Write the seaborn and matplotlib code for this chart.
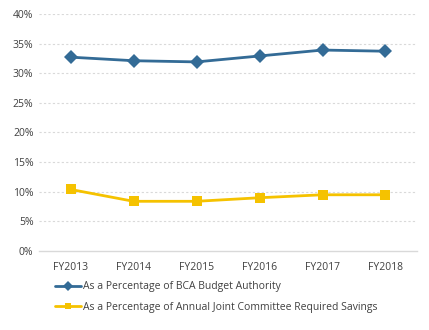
import matplotlib
matplotlib.use("Agg")
import matplotlib.pyplot as plt
import seaborn as sns
import pandas as pd

years = ["FY2013", "FY2014", "FY2015", "FY2016", "FY2017", "FY2018"]
bca = [32.7, 32.1, 31.9, 32.9, 33.9, 33.7]
jc = [10.4, 8.4, 8.4, 9.0, 9.5, 9.5]
name_bca = "As a Percentage of BCA Budget Authority"
name_jc = "As a Percentage of Annual Joint Committee Required Savings"
yticks = [0, 5, 10, 15, 20, 25, 30, 35, 40]

sns.set_theme(style="white")
plt.rcParams['font.family'] = ['Open Sans', 'DejaVu Sans']

df = pd.DataFrame({"year": years * 2, "value": bca + jc,
                   "series": [name_bca] * 6 + [name_jc] * 6})

fig = plt.figure(figsize=(4.29, 3.30), dpi=100)
ax = fig.add_axes([0.091, 0.239, 0.881, 0.719])

sns.lineplot(data=df, x="year", y="value", hue="series", style="series",
             palette={name_bca: "#336b96", name_jc: "#f5c200"},
             markers={name_bca: "D", name_jc: "s"}, dashes=False,
             markersize=7, linewidth=2.0, markeredgewidth=0, ax=ax, sort=False)

ax.set_xlim(-0.5, 5.5)
ax.set_ylim(0, 40)
ax.set_yticks(yticks)
ax.set_yticklabels([f"{v}%" for v in yticks])
ax.set_xlabel("")
ax.set_ylabel("")
for y in yticks[1:]:
    ax.axhline(y, color="#d9d9d9", linewidth=0.8, linestyle=(0, (2, 2)), zorder=0)
for s in ["top", "right", "left"]:
    ax.spines[s].set_visible(False)
ax.spines["bottom"].set_color("#d9d9d9")
ax.spines["bottom"].set_linewidth(1)
ax.tick_params(axis="both", length=0, labelsize=7.5, colors="#404040", pad=8)
ax.tick_params(axis="y", pad=4)

leg = ax.legend(loc="upper left", bbox_to_anchor=(0.03, -0.11), frameon=False,
                fontsize=7.5, handlelength=2.5, handletextpad=0.2,
                labelspacing=0.9, borderaxespad=0, markerscale=0.7)
for t in leg.get_texts():
    t.set_color("#404040")

fig.savefig("out.png", dpi=100)
